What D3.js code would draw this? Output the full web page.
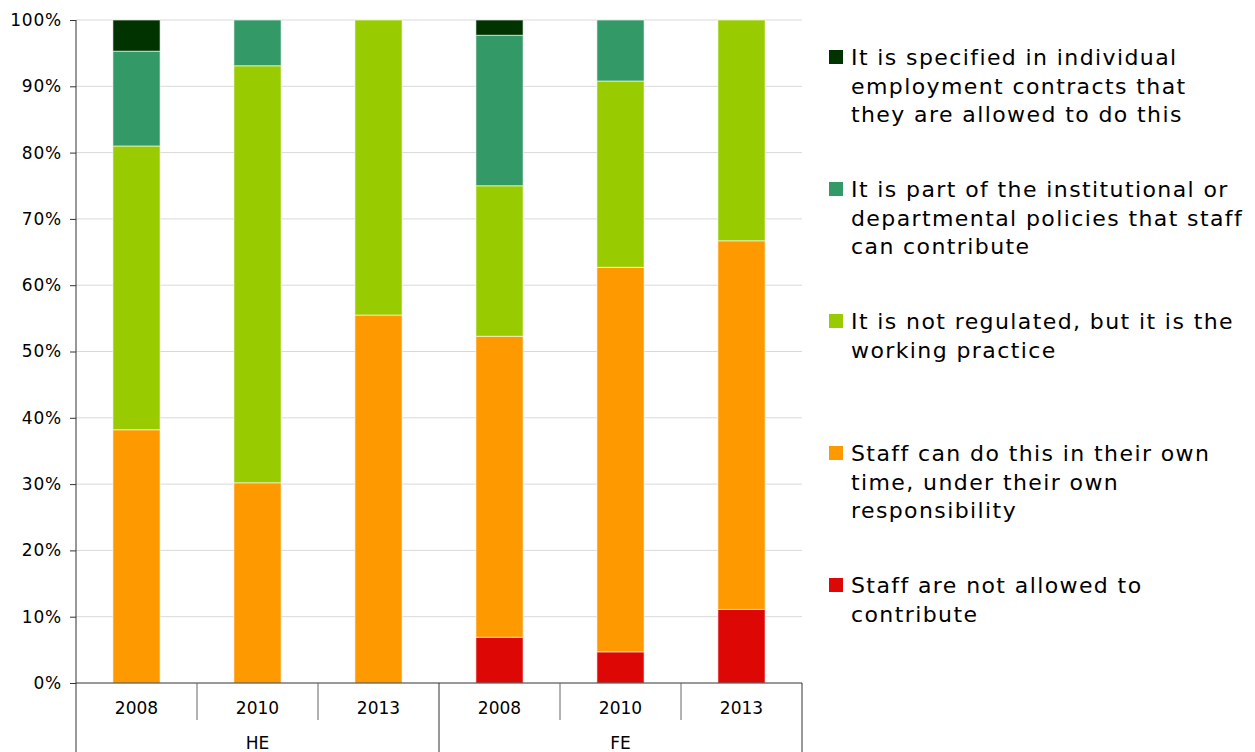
<!DOCTYPE html>
<html><head><meta charset="utf-8">
<script src="https://cdn.jsdelivr.net/npm/d3@7"></script>
<style>body{margin:0;background:#fff}svg{display:block;font-family:"DejaVu Sans",Verdana,sans-serif}</style>
</head><body>
<svg id="c" width="1255" height="752"></svg>
<script>
const categories = ["2008","2010","2013","2008","2010","2013"];
const groups = ["HE","FE"];
const notAllowed   = [0, 0, 0, 6.9, 4.7, 11.1];
const ownTime      = [38.2, 30.2, 55.5, 45.4, 58.0, 55.6];
const notRegulated = [42.8, 62.9, 44.5, 22.7, 28.1, 33.3];
const policies     = [14.3, 6.9, 0, 22.7, 9.2, 0];
const contracts    = [4.7, 0, 0, 2.3, 0, 0];
const seriesNames = ["notAllowed","ownTime","notRegulated","policies","contracts"];
const seriesColors = ["#DD0806","#FF9900","#99CC00","#339966","#003300"];
const legendLabels = [
  ["It is specified in individual","employment contracts that","they are allowed to do this"],
  ["It is part of the institutional or","departmental policies that staff","can contribute"],
  ["It is not regulated, but it is the","working practice"],
  ["Staff can do this in their own","time, under their own","responsibility"],
  ["Staff are not allowed to","contribute"]
];
const yTicks = [0,10,20,30,40,50,60,70,80,90,100];

const svg = d3.select("#c");
const L = 76, R = 802, T = 20, B = 683;
const idx = d3.range(categories.length);
const x = d3.scaleBand().domain(idx).range([L, R]).paddingInner(0.61).paddingOuter(0.305);
const xb = d3.scaleBand().domain(idx).range([L, R]);
const y = d3.scaleLinear().domain([0,100]).range([B, T]);

// gridlines
svg.append("g").selectAll("line").data(yTicks.slice(1)).join("line")
  .attr("x1", L).attr("x2", R).attr("y1", d=>y(d)).attr("y2", d=>y(d))
  .attr("stroke", "#d9d9d9").attr("stroke-width", 1);

const rows = idx.map(i => ({i, notAllowed:notAllowed[i], ownTime:ownTime[i], notRegulated:notRegulated[i], policies:policies[i], contracts:contracts[i]}));
const stacked = d3.stack().keys(seriesNames)(rows);

svg.append("g").selectAll("g").data(stacked).join("g")
  .attr("fill", (d,k)=>seriesColors[k])
  .selectAll("rect").data(d=>d.filter(p=>p[1]-p[0]>0)).join("rect")
  .attr("x", d=>x(d.data.i)).attr("width", x.bandwidth())
  .attr("y", d=>y(d[1])).attr("height", d=>y(d[0])-y(d[1]))
  .attr("stroke", "rgba(255,255,255,0.6)").attr("stroke-width", 1);

// y axis
const yAxis = d3.axisLeft(y).tickValues(yTicks).tickFormat(d=>d+"%").tickSize(6).tickPadding(8);
const ya = svg.append("g").attr("transform", `translate(${L},0)`).call(yAxis);
ya.select(".domain").remove();
ya.selectAll(".tick line").attr("stroke", "#333");
ya.selectAll("text").attr("font-size", 17).attr("letter-spacing", "0.8px").attr("fill", "#000").attr("font-family", "DejaVu Sans, Verdana, sans-serif");
svg.append("line").attr("x1", L).attr("x2", L).attr("y1", T).attr("y2", 752).attr("stroke", "#333");

// x axis line
svg.append("line").attr("x1", L).attr("x2", R).attr("y1", B).attr("y2", B).attr("stroke", "#333");
// category separators
idx.slice(1).forEach(i => {
  const isGroup = i % 3 === 0;
  svg.append("line").attr("x1", xb(i)).attr("x2", xb(i)).attr("y1", B).attr("y2", isGroup ? 752 : 720)
    .attr("stroke", isGroup ? "#333" : "#666");
});
svg.append("line").attr("x1", R).attr("x2", R).attr("y1", B).attr("y2", 752).attr("stroke", "#333");

svg.append("g").selectAll("text").data(idx).join("text")
  .attr("x", i=>xb(i)+xb.bandwidth()/2).attr("y", 714)
  .attr("text-anchor","middle").attr("font-size",17).text(i=>categories[i]);
svg.append("g").selectAll("text").data(groups).join("text")
  .attr("x", (g,k)=>(xb(k*3) + xb(k*3+2) + xb.bandwidth())/2).attr("y", 749)
  .attr("text-anchor","middle").attr("font-size",17).text(d=>d);

// legend (top to bottom: reversed series)
const legOrder = [4,3,2,1,0];
const ly = d3.scaleLinear().domain([0,4]).range([57, 585]);
const lg = svg.append("g").selectAll("g").data(legOrder).join("g")
  .attr("transform", (s,k)=>`translate(829,${ly(k)})`);
lg.append("rect").attr("x",0).attr("y",-7).attr("width",14).attr("height",14).attr("fill", s=>seriesColors[s]);
lg.append("text").attr("font-size",22).attr("letter-spacing","1.4px").attr("fill","#000")
  .selectAll("tspan").data((s,k)=>legendLabels[k]).join("tspan")
  .attr("x",22).attr("y",(d,j)=>j*28.7).attr("dy","0.36em").text(d=>d);
</script>
</body></html>
